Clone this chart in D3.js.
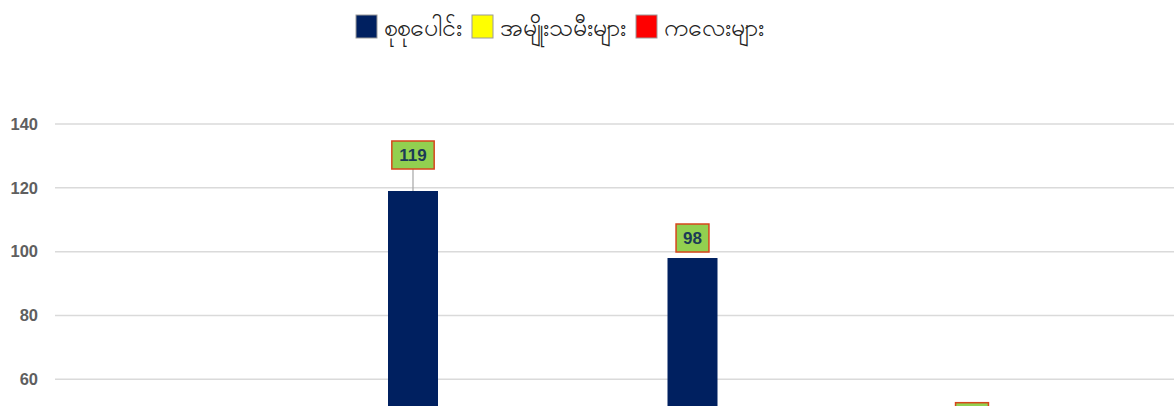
<!DOCTYPE html>
<html>
<head>
<meta charset="utf-8">
<script src="https://cdn.jsdelivr.net/npm/d3@7"></script>
<style>
  html, body { margin: 0; padding: 0; background: #fff; }
  svg { display: block; }
</style>
</head>
<body>
<svg id="chart" width="1174" height="406"></svg>
<script>
// ---- data ----
const categories = ["၁", "၂", "၃", "၄"];
const seriesNames = ["စုစုပေါင်း", "အမျိုးသမီးများ", "ကလေးများ"];
const totalValues = [25, 119, 98, 42];
const womenValues = [6, 20, 18, 9];
const childValues = [3, 12, 9, 5];
const yTicks = [0, 20, 40, 60, 80, 100, 120, 140];

// ---- style ----
const W = 1174, H = 406;
const colors = ["#002060", "#ffff00", "#ff0000"];
const svg = d3.select("#chart");
const plot = { left: 55, right: 1173, top: 124, bottom: 570.7 };

const rows = categories.map((c, i) => ({
  cat: c,
  vals: [totalValues[i], womenValues[i], childValues[i]]
}));

const x0 = d3.scaleBand().domain(categories).range([plot.left, plot.right]).padding(0);
const x1 = d3.scaleBand().domain(d3.range(seriesNames.length)).range([53.5, 53.5 + 150]).padding(0);
const y = d3.scaleLinear().domain([0, 140]).range([plot.bottom, plot.top]);

// gridlines
svg.append("g")
  .selectAll("line")
  .data(yTicks)
  .join("line")
  .attr("x1", plot.left).attr("x2", W)
  .attr("y1", d => y(d)).attr("y2", d => y(d))
  .attr("stroke", "#dadada").attr("stroke-width", 1.5);

// y axis labels (only those inside the visible frame)
const yAxis = d3.axisLeft(y).tickValues(yTicks.filter(t => y(t) < H - 8)).tickSize(0).tickPadding(0);
const yg = svg.append("g").attr("transform", `translate(${38},0)`).call(yAxis);
yg.select(".domain").remove();
yg.selectAll("text")
  .attr("font-family", "Liberation Sans, Arial, sans-serif")
  .attr("font-size", 16.5).attr("font-weight", "bold")
  .attr("fill", "#5f5f5f");

// x axis baseline (below visible area)
const xAxis = d3.axisBottom(x0).tickSize(0).tickFormat("");
const xg = svg.append("g").attr("transform", `translate(0,${plot.bottom})`).call(xAxis);
xg.select(".domain").attr("stroke", "#dadada");

// bars
const groups = svg.append("g").selectAll("g")
  .data(rows).join("g")
  .attr("transform", d => `translate(${x0(d.cat)},0)`);

groups.selectAll("rect")
  .data(d => d.vals.map((v, k) => ({ v, k })))
  .join("rect")
  .attr("x", d => x1(d.k))
  .attr("width", x1.bandwidth())
  .attr("y", d => y(d.v))
  .attr("height", d => y(0) - y(d.v))
  .attr("fill", d => colors[d.k]);

// data labels
const maxVal = d3.max(totalValues);
const labelFont = 17, boxH = 28, padX = 7, gap = 6, liftMax = 16;
groups.each(function (row) {
  const g = d3.select(this);
  row.vals.forEach((v, k) => {
    const cx = x1(k) + x1.bandwidth() / 2;
    const lifted = (k === 0 && v === maxVal);
    const bottom = y(v) - gap - (lifted ? liftMax : 0);
    if (bottom - boxH > H) return; // entirely outside the frame
    const lg = g.append("g");
    if (lifted) {
      lg.append("line")
        .attr("x1", cx).attr("x2", cx)
        .attr("y1", bottom).attr("y2", y(v))
        .attr("stroke", "#a6a6a6").attr("stroke-width", 1.2);
    }
    const w = String(v).length * labelFont * 0.556 + padX * 2;
    lg.append("rect")
      .attr("x", cx - w / 2).attr("y", bottom - boxH)
      .attr("width", w).attr("height", boxH)
      .attr("fill", "#92d050").attr("stroke", "#d6461c").attr("stroke-width", 1.5);
    if (bottom - boxH / 2 < H - 4) {
      lg.append("text")
        .attr("x", cx).attr("y", bottom - boxH / 2)
        .attr("text-anchor", "middle").attr("dominant-baseline", "central")
        .attr("font-family", "Liberation Sans, Arial, sans-serif")
        .attr("font-size", labelFont).attr("font-weight", "bold")
        .attr("fill", "#1b3a57")
        .text(v);
    }
  });
});

// legend
const legend = svg.append("g");
let lx = 356;
seriesNames.forEach((name, k) => {
  legend.append("rect")
    .attr("x", lx).attr("y", 15).attr("width", 21).attr("height", 23)
    .attr("fill", colors[k]).attr("stroke", "#9a9a9a").attr("stroke-width", 1);
  const t = legend.append("text")
    .attr("x", lx + 28).attr("y", 27)
    .attr("dominant-baseline", "central")
    .attr("font-size", 25).attr("fill", "#222")
    .text(name);
  lx += 28 + t.node().getComputedTextLength() + 10;
});
</script>
</body>
</html>
